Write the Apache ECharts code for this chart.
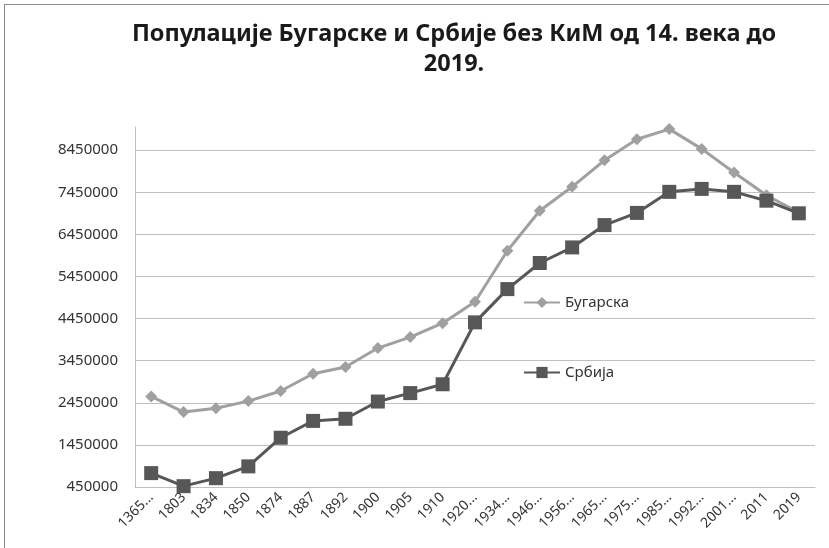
<!DOCTYPE html>
<html>
<head>
<meta charset="utf-8">
<script src="https://cdn.jsdelivr.net/npm/echarts@6/dist/echarts.min.js"></script>
<style>
  html, body { margin: 0; padding: 0; background: #fff; }
  #frame {
    position: absolute; left: 0; top: 0; width: 829px; height: 548px;
    box-sizing: border-box; border-left: 1px solid #8c8c8c; border-top: 1px solid #8c8c8c;
    margin-left: 4px; margin-top: 4px;
  }
  #chart { position: absolute; left: 0; top: 0; width: 829px; height: 548px; }
</style>
</head>
<body>
<div id="frame"></div>
<div id="chart"></div>
<script>
// категорије (године) како су исписане на оси
const categories = ['1365...', '1803', '1834', '1850', '1874', '1887', '1892', '1900', '1905', '1910',
  '1920...', '1934...', '1946...', '1956...', '1965...', '1975...', '1985...', '1992...', '2001...', '2011', '2019']

// Бугарска
const bugarska = [2600000, 2230000, 2320000, 2490000, 2730000, 3140000, 3300000, 3750000, 4010000, 4340000,
  4850000, 6060000, 7010000, 7580000, 8210000, 8710000, 8950000, 8480000, 7920000, 7380000, 6970000]

// Србија
const srbija = [780000, 470000, 660000, 940000, 1620000, 2020000, 2070000, 2480000, 2680000, 2890000,
  4360000, 5150000, 5770000, 6140000, 6670000, 6960000, 7460000, 7530000, 7460000, 7250000, 6950000]

const yMin = 450000
const yMax = 9000000
const yStep = 1000000

const font = '"Noto Sans", sans-serif'

const chart = echarts.init(document.getElementById('chart'))

chart.setOption({
  animation: false,
  title: {
    text: 'Популације Бугарске и Србије без КиМ од 14. века до\n2019.',
    left: 449,
    textAlign: 'center',
    top: 14,
    textStyle: {
      fontFamily: font,
      fontSize: 23.5,
      fontWeight: 'bold',
      color: '#1a1a1a',
      lineHeight: 30
    }
  },
  legend: {
    orient: 'vertical',
    left: 518,
    top: 290,
    itemGap: 55,
    itemWidth: 36,
    itemHeight: 14,
    textStyle: { fontFamily: font, fontSize: 15, color: '#333' },
    data: ['Бугарска', 'Србија']
  },
  grid: {
    left: 135,
    right: 14,
    top: 127,
    bottom: 61
  },
  xAxis: {
    type: 'category',
    data: categories,
    boundaryGap: true,
    axisLine: { lineStyle: { color: '#bfbfbf', width: 1 } },
    axisTick: { show: false },
    axisLabel: {
      rotate: 45,
      interval: 0,
      margin: 8,
      fontFamily: font,
      fontSize: 14,
      color: '#333'
    }
  },
  yAxis: {
    type: 'value',
    min: yMin,
    max: yMax,
    interval: yStep,
    axisLine: { show: true, lineStyle: { color: '#bfbfbf', width: 1 } },
    axisTick: { show: false },
    axisLabel: {
      showMaxLabel: false,
      margin: 17,
      fontFamily: font,
      fontSize: 15,
      color: '#333',
      formatter: v => String(v)
    },
    splitLine: {
      showMaxLine: false,
      lineStyle: { color: '#bfbfbf', width: 1 }
    }
  },
  series: [
    {
      name: 'Бугарска',
      type: 'line',
      data: bugarska,
      symbol: 'diamond',
      symbolSize: 12,
      clip: false,
      itemStyle: { color: '#a0a0a0' },
      lineStyle: { color: '#a0a0a0', width: 3 }
    },
    {
      name: 'Србија',
      type: 'line',
      data: srbija,
      symbol: 'rect',
      symbolSize: 14,
      clip: false,
      itemStyle: { color: '#575757' },
      lineStyle: { color: '#575757', width: 3 }
    }
  ]
})
</script>
</body>
</html>
